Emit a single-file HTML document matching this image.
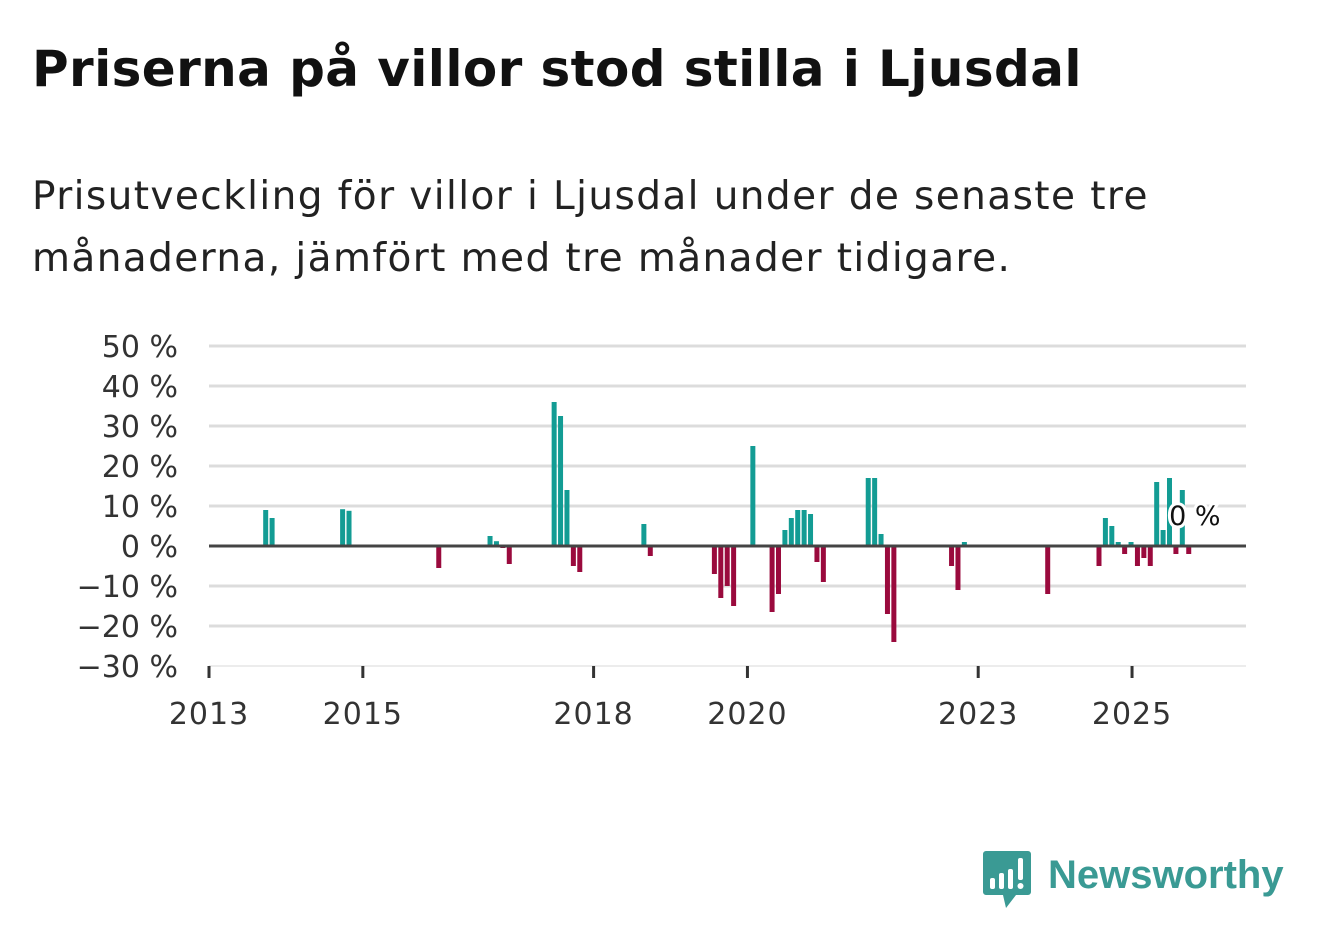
<!DOCTYPE html>
<html><head><meta charset="utf-8"><style>
body{margin:0;width:1322px;height:939px;background:#fff;font-family:"DejaVu Sans","Liberation Sans",sans-serif;overflow:hidden}
h1{position:absolute;left:32px;top:40px;margin:0;font-size:50px;font-weight:bold;color:#111;letter-spacing:0.4px;white-space:nowrap}
p{position:absolute;left:32px;top:166px;margin:0;font-size:39px;line-height:62px;color:#222;width:1290px;white-space:nowrap;letter-spacing:1.4px}
</style></head><body>
<h1>Priserna på villor stod stilla i Ljusdal</h1>
<p>Prisutveckling för villor i Ljusdal under de senaste tre<br>månaderna, jämfört med tre månader tidigare.</p>
<svg id="chart" width="1322" height="939" style="position:absolute;left:0;top:0"></svg>
<svg style="position:absolute;left:980px;top:848px" width="320" height="64">
<path d="M6 3h42a3 3 0 0 1 3 3v38a3 3 0 0 1-3 3H36l-10 13-3-13H6a3 3 0 0 1-3-3V6a3 3 0 0 1 3-3z" fill="#3a9a94"/>
<rect x="10" y="30" width="5" height="11" fill="#fff" rx="2"/><rect x="19" y="25" width="5" height="16" fill="#fff" rx="2"/><rect x="28" y="21" width="5" height="20" fill="#fff" rx="2"/><rect x="38" y="10" width="5" height="22" fill="#fff" rx="2"/><circle cx="40.5" cy="38" r="3" fill="#fff"/>
<text x="68" y="40" font-size="40" font-weight="bold" fill="#3a9a94" font-family="Liberation Sans,sans-serif">Newsworthy</text>
</svg>
<script>
const months=[9,10,21,22,36,44,45,46,47,54,55,56,57,58,68,69,79,80,81,82,85,88,89,90,91,92,93,94,95,96,103,104,105,106,107,116,117,118,131,139,140,141,142,143,144,145,146,147,148,149,150,151,152,153,154];
const values=[9,7,9.2,8.8,-5.5,2.5,1.2,-0.5,-4.5,36,32.5,14,-5,-6.5,5.5,-2.5,-7,-13,-10,-15,25,-16.5,-12,4,7,9,9,8,-4,-9,17,17,3,-17,-24,-5,-11,1,-12,-5,7,5,1,-2,1,-5,-3,-5,16,4,17,-2,14,-2,0];
const yTicks=[50,40,30,20,10,0,-10,-20,-30];
const xTickYears=[2013,2015,2018,2020,2023,2025];
const NS="http://www.w3.org/2000/svg";
const svg=document.getElementById('chart');
const x0=209,x1=1246,pxPerMonth=6.41;
const xs=m=>x0+m*pxPerMonth;
const ys=v=>546-v*4;
function el(t,a){const e=document.createElementNS(NS,t);for(const k in a)e.setAttribute(k,a[k]);svg.appendChild(e);return e;}
yTicks.forEach(v=>{
 if(v!==0&&v!==-30){const g=el('line',{x1:x0,x2:x1,y1:ys(v),y2:ys(v),stroke:'#dcdcdc','stroke-width':3});
 
 }
 const t=el('text',{x:178,y:ys(v)+11,'text-anchor':'end','font-size':30,fill:'#333','font-family':'DejaVu Sans,sans-serif'});
 t.textContent=(v<0?'\u2212'+(-v):v)+' %';
 
 
});
const base=el('line',{x1:x0,x2:x1,y1:666,y2:666,stroke:'#e6e6e6','stroke-width':1.5});


xTickYears.forEach(yr=>{
 const x=xs((yr-2013)*12);
 const tk=el('line',{x1:x,x2:x,y1:666,y2:678,stroke:'#333','stroke-width':3});
 
 
 const t=el('text',{x:x,y:724,'text-anchor':'middle','font-size':30,fill:'#333','font-family':'DejaVu Sans,sans-serif','letter-spacing':1});
 t.textContent=yr;
 
 
});
months.forEach((m,i)=>{
 const v=values[i];if(v===0)return;
 const cx=xs(m)-1;
 const r=el('rect',{x:cx-2.5,width:5,y:Math.min(ys(v),546),height:Math.abs(ys(v)-546),fill:v>0?'#139c94':'#9a0a3d'});
 
 
});
const zl=el('line',{x1:x0,x2:x1,y1:546,y2:546,stroke:'#444','stroke-width':3});


const lm=months[months.length-1],lv=values[values.length-1];
const lb=el('text',{x:xs(lm)-27,y:ys(lv)-21,'font-size':27,fill:'#111',stroke:'#fff','stroke-width':6,'paint-order':'stroke','font-family':'DejaVu Sans,sans-serif'});
lb.textContent=lv+' %';


</script>
</body></html>
